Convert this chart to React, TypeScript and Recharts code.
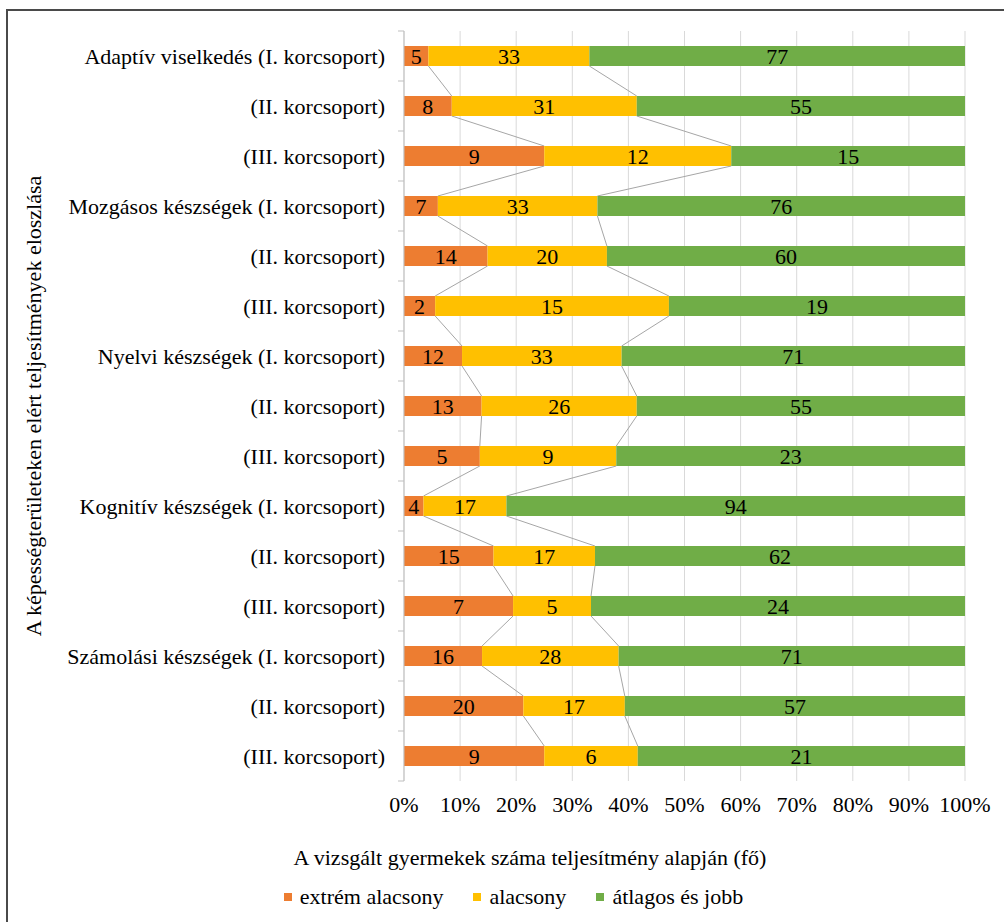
import React from 'react';
import { BarChart, Bar, XAxis, YAxis, CartesianGrid, LabelList, Label } from 'recharts';

const categories = [
  'Adaptív viselkedés (I. korcsoport)',
  '(II. korcsoport)',
  '(III. korcsoport)',
  'Mozgásos készségek (I. korcsoport)',
  '(II. korcsoport)',
  '(III. korcsoport)',
  'Nyelvi készségek (I. korcsoport)',
  '(II. korcsoport)',
  '(III. korcsoport)',
  'Kognitív készségek (I. korcsoport)',
  '(II. korcsoport)',
  '(III. korcsoport)',
  'Számolási készségek (I. korcsoport)',
  '(II. korcsoport)',
  '(III. korcsoport)',
];

const extreme = [5, 8, 9, 7, 14, 2, 12, 13, 5, 4, 15, 7, 16, 20, 9];
const low = [33, 31, 12, 33, 20, 15, 33, 26, 9, 17, 17, 5, 28, 17, 6];
const average = [77, 55, 15, 76, 60, 19, 71, 55, 23, 94, 62, 24, 71, 57, 21];

const seriesKeys = ['extreme', 'low', 'average'];
const seriesNames = ['extrém alacsony', 'alacsony', 'átlagos és jobb'];
const seriesColors = ['#ED7D31', '#FFC000', '#70AD47'];
const seriesValues = [extreme, low, average];

const xTicks = [0, 0.1, 0.2, 0.3, 0.4, 0.5, 0.6, 0.7, 0.8, 0.9, 1];

const FONT = 'Liberation Serif';
const FONT_SIZE = 22;
const CHART_W = 1004;
const CHART_H = 875;
const MARGIN = { top: 31, right: 39, bottom: 0, left: 0 };
const Y_AXIS_W = 404;
const X_AXIS_H = 94;
const AXIS_X = MARGIN.left + Y_AXIS_W;
const BAND = (CHART_H - MARGIN.top - MARGIN.bottom - X_AXIS_H) / categories.length;

const data = categories.map((name, i) => ({
  id: i,
  name,
  extreme: extreme[i],
  low: low[i],
  average: average[i],
}));

// share of the row covered by series 0..k
function cumShare(row: number, k: number) {
  let total = 0;
  let upto = 0;
  seriesValues.forEach((vals, j) => {
    total += vals[row];
    if (j <= k) upto += vals[row];
  });
  return upto / total;
}

// bar rect plus the Excel-style series line down to the next row
const makeShape = (k: number) => (props: any) => {
  const { x, y, width, height, index, fill } = props;
  const rect = <rect x={x} y={y} width={width} height={height} fill={fill} />;
  if (k === seriesValues.length - 1 || index >= categories.length - 1) return rect;
  const start = k === 0 ? 0 : cumShare(index, k - 1);
  const end = cumShare(index, k);
  const ppu = width / (end - start);
  const x0 = x - start * ppu;
  const xNext = x0 + cumShare(index + 1, k) * ppu;
  return (
    <g>
      {rect}
      <line x1={x + width} y1={y + height} x2={xNext} y2={y + BAND} stroke="#A6A6A6" strokeWidth={1} />
    </g>
  );
};

const CategoryTick = (props: any) => {
  const { y, payload } = props;
  const i = Number(payload.value);
  return (
    <g>
      <line x1={AXIS_X - 6} y1={y - BAND / 2} x2={AXIS_X} y2={y - BAND / 2} stroke="#BFBFBF" />
      {i === categories.length - 1 && (
        <line x1={AXIS_X - 6} y1={y + BAND / 2} x2={AXIS_X} y2={y + BAND / 2} stroke="#BFBFBF" />
      )}
      <text x={AXIS_X - 19} y={y} dy="0.35em" textAnchor="end" fill="#000" fontSize={FONT_SIZE} fontFamily={FONT}>
        {categories[i]}
      </text>
    </g>
  );
};

export default function App() {
  return (
    <div style={{ position: 'absolute', left: 0, top: 0, width: 1004, height: 922, overflow: 'hidden', background: '#fff' }}>
      <div
        style={{
          position: 'absolute',
          left: 6,
          top: 9,
          width: 1100,
          height: 1100,
          borderTop: '2px solid #4a4a4a',
          borderLeft: '2px solid #4a4a4a',
        }}
      />
      <div style={{ position: 'absolute', left: 0, top: 0 }}>
        <BarChart width={CHART_W} height={CHART_H} data={data} layout="vertical" stackOffset="expand" margin={MARGIN}>
          <CartesianGrid horizontal={false} stroke="#D9D9D9" />
          <XAxis
            type="number"
            domain={[0, 1]}
            ticks={xTicks}
            tickFormatter={(v: number) => `${Math.round(v * 100)}%`}
            axisLine={false}
            tickLine={false}
            height={X_AXIS_H}
            tickMargin={9}
            tick={{ fontSize: FONT_SIZE, fill: '#000', fontFamily: FONT }}
          >
            <Label
              content={(p: any) => (
                <text x={530} y={p.viewBox.y + 84} textAnchor="middle" fill="#000" fontSize={FONT_SIZE} fontFamily={FONT}>
                  A vizsgált gyermekek száma teljesítmény alapján (fő)
                </text>
              )}
            />
          </XAxis>
          <YAxis
            type="category"
            dataKey="id"
            width={Y_AXIS_W}
            interval={0}
            tickLine={false}
            axisLine={{ stroke: '#BFBFBF' }}
            tick={<CategoryTick />}
          >
            <Label
              content={(p: any) => {
                const cy = p.viewBox.y + p.viewBox.height / 2;
                return (
                  <text
                    x={33}
                    y={cy}
                    transform={`rotate(-90, 33, ${cy})`}
                    textAnchor="middle"
                    dominantBaseline="central"
                    fill="#000"
                    fontSize={FONT_SIZE}
                    fontFamily={FONT}
                  >
                    A képességterületeken elért teljesítmények eloszlása
                  </text>
                );
              }}
            />
          </YAxis>
          {seriesKeys.map((key, k) => (
            <Bar
              key={key}
              dataKey={key}
              name={seriesNames[k]}
              stackId="a"
              fill={seriesColors[k]}
              barSize={20}
              isAnimationActive={false}
              shape={makeShape(k)}
            >
              <LabelList dataKey={key} position="center" fill="#000" fontSize={FONT_SIZE} fontFamily={FONT} />
            </Bar>
          ))}
        </BarChart>
      </div>
      <div
        style={{
          position: 'absolute',
          left: 0,
          top: 884,
          width: 1027,
          display: 'flex',
          justifyContent: 'center',
          gap: 30,
          fontFamily: FONT,
          fontSize: FONT_SIZE,
          color: '#000',
        }}
      >
        {seriesNames.map((n, k) => (
          <div key={n} style={{ display: 'flex', alignItems: 'center' }}>
            <span style={{ width: 8, height: 8, background: seriesColors[k], marginRight: 8, display: 'inline-block' }} />
            <span>{n}</span>
          </div>
        ))}
      </div>
    </div>
  );
}
